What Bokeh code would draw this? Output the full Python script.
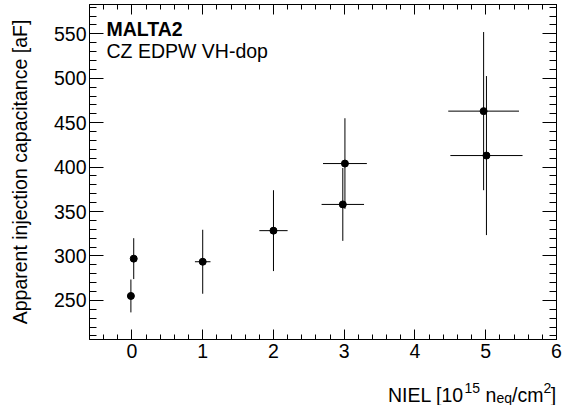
from bokeh.embed import file_html
from bokeh.layouts import column
from bokeh.models import CustomJSTickFormatter, Label, LinearAxis, Range1d, SingleIntervalTicker
from bokeh.plotting import figure
from bokeh.resources import INLINE

# Apparent injection capacitance versus irradiation fluence (NIEL)
niel = [-0.015, 0.025, 1.0, 2.0, 2.98, 3.01, 4.97, 5.01]
niel_err = [0.0, 0.0, 0.11, 0.2, 0.3, 0.31, 0.5, 0.51]
capacitance = [255, 297, 293.5, 328.5, 358, 404, 463, 413]
capacitance_err = [18.5, 23, 36, 45.5, 41, 51, 89, 89.5]

FONT = "Liberation Sans"
SIZE = "19.5px"
W = 570
MAIN_H, TITLE_H = 368, 37
LEFT, RIGHT, TOP, BOTTOM = 89, 14, 4, 29

p = figure(
    width=W, height=MAIN_H,
    x_range=Range1d(-0.6, 6.0), y_range=Range1d(206, 583),
    output_backend="svg", toolbar_location=None,
    x_axis_location=None, y_axis_location=None,
    min_border_left=LEFT, min_border_right=RIGHT,
    min_border_top=TOP, min_border_bottom=BOTTOM,
)
p.background_fill_color = "white"
p.border_fill_color = "white"
p.outline_line_color = "black"
p.outline_line_width = 1
p.xgrid.visible = False
p.ygrid.visible = False


def make_axis(ticker, tick_in, minor_in, show_labels):
    ax = LinearAxis(ticker=ticker)
    ax.axis_line_color = "black"
    ax.major_tick_line_color = "black"
    ax.minor_tick_line_color = "black"
    ax.major_tick_in = tick_in
    ax.major_tick_out = 0
    ax.minor_tick_in = minor_in
    ax.minor_tick_out = 0
    ax.major_label_text_font = FONT
    ax.major_label_text_color = "black"
    ax.major_label_text_font_size = SIZE
    if not show_labels:
        ax.formatter = CustomJSTickFormatter(code="return ''")
        ax.major_label_standoff = 0
    return ax


xt = SingleIntervalTicker(interval=1, num_minor_ticks=5)
yt = SingleIntervalTicker(interval=50, num_minor_ticks=5)

xb = make_axis(xt, 10, 5, True)
xb.major_label_standoff = 4
p.add_layout(xb, "below")
p.add_layout(make_axis(xt, 10, 5, False), "above")

yl = make_axis(yt, 14, 7, True)
yl.major_label_standoff = 3
yl.axis_label = "Apparent injection capacitance [aF]"
yl.axis_label_text_font = FONT
yl.axis_label_text_font_size = SIZE
yl.axis_label_text_font_style = "normal"
yl.axis_label_text_color = "black"
yl.axis_label_standoff = 20
p.add_layout(yl, "left")
p.add_layout(make_axis(yt, 14, 7, False), "right")

# error bars and markers
x_lo = [x - e for x, e in zip(niel, niel_err)]
x_hi = [x + e for x, e in zip(niel, niel_err)]
y_lo = [y - e for y, e in zip(capacitance, capacitance_err)]
y_hi = [y + e for y, e in zip(capacitance, capacitance_err)]

p.segment(x0=x_lo, x1=x_hi, y0=capacitance, y1=capacitance,
          line_color="black", line_width=1)
p.segment(x0=niel, x1=niel, y0=y_lo, y1=y_hi,
          line_color="black", line_width=1)
p.scatter(niel, capacitance, size=7, marker="circle",
          fill_color="black", line_color="black")


def frame_text(fig, frame_h, text, cx, cy, size, style="normal"):
    """Text with its baseline at pixel (cx, cy); frames start at x=LEFT, cy from frame top."""
    fig.add_layout(Label(
        x=cx - LEFT, y=frame_h - cy, x_units="screen", y_units="screen",
        text=text, text_font=FONT, text_font_size=size,
        text_font_style=style, text_color="black",
        text_align="left", text_baseline="alphabetic",
    ))


# caption inside the frame
FRAME_H = MAIN_H - TOP - BOTTOM
frame_text(p, FRAME_H, "MALTA2", 106, 28 - TOP, SIZE, style="bold")
frame_text(p, FRAME_H, "CZ EDPW VH-dop", 106, 50 - TOP, SIZE)

# strip below the plot carrying the x axis title: NIEL [10^15 n_eq/cm^2]
t = figure(
    width=W, height=TITLE_H,
    x_range=Range1d(0, 1), y_range=Range1d(0, 1),
    output_backend="svg", toolbar_location=None,
    x_axis_location=None, y_axis_location=None,
    min_border_left=0, min_border_right=0, min_border_top=0, min_border_bottom=0,
)
t.outline_line_color = None
t.background_fill_color = "white"
t.border_fill_color = "white"
t.xgrid.visible = False
t.ygrid.visible = False

SCRIPT = "14px"
base, sup, sub = 394 - MAIN_H, 387 - MAIN_H, 397 - MAIN_H
frame_text(t, TITLE_H, "NIEL [10", 387.5, base, SIZE)
frame_text(t, TITLE_H, "15", 464, sup, SCRIPT)
frame_text(t, TITLE_H, "n", 485, base, SIZE)
frame_text(t, TITLE_H, "eq", 496, sub, SCRIPT)
frame_text(t, TITLE_H, "/cm", 511.5, base, SIZE)
frame_text(t, TITLE_H, "2", 543, sup, SCRIPT)
frame_text(t, TITLE_H, "]", 550.3, base, SIZE)

layout = column(p, t, spacing=0)
open("out.html", "w").write(file_html(layout, INLINE))
